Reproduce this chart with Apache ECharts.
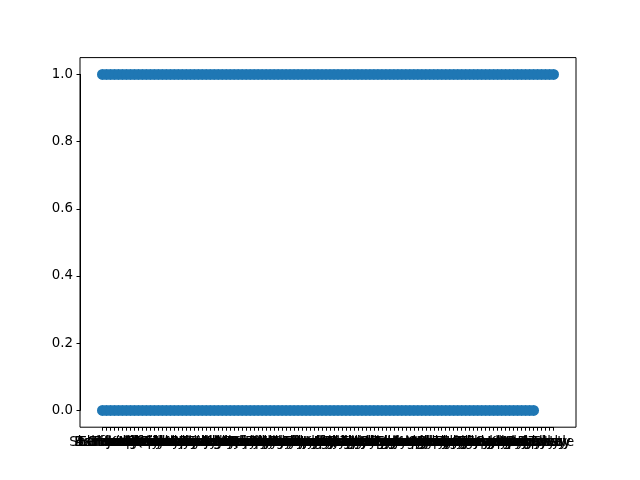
<!DOCTYPE html>
<html>
<head>
<meta charset="utf-8">
<script src="https://cdn.jsdelivr.net/npm/echarts@6/dist/echarts.min.js"></script>
<style>html,body{margin:0;padding:0;background:#fff}#c{width:640px;height:480px}</style>
</head>
<body>
<div id="c"></div>
<script>
var categories = ["Sherwood","Ashfordly","Bartonville","Cliftonia","Dunmoreway","Elmwoodside","Fairviewly","Glendalewyn","Hamiltonia","Irvinedale","Jasperwick","Kingstowne","Lakesidely","Milfordway","Newportsby","Oakdalemyr","Prestonvale","Quincyport","Rivertonia","Salemwyck","Trentonville","Unionport","Vernondale","Westonbury","Yorkshyre","Ashlandvey","Bristolgate","Cantonwyck","Doverbury","Eastonmoor","Franklinby","Georgetowny","Hudsonvale","Ithacapyr","Jacksonby","Kentonwyck","Lincolnby","Madisonvy","Norwoodgy","Oxfordway","Portlandry","Quarryvale","Richmondly","Sheldonway","Taylorsby","Uptonwyck","Victoriavy","Warrenpyk","Yatesburgh","Auburnway","Bedfordgy","Chestervy","Dentonpyke","Edenbury","Fultonway","Granbyvale","Hartfordgy","Ivyburgh","Jerichovey","Kendallpyr","Lowellgate","Marionvy","Nelsonway","Orangeby","Pikevalley","Quailridge","Romeburgh","Suttonpyke","Troyvalley","Uticagrove","Valewyck","Wellsburgy","Avonmouth","Berlinway","Camdenpyr","Daytongy","Elginvale","Fremontby","Greeneway","Harpervy","Ioniaport","Jewellpyk","Knoxburgy","Loganway","Monroevy","Nilesburg","Ogdenpyke","Perryway","Renovalley","Selmagrove","Tiptonvy","Unityway","Vidaburgh","Waynepyke","Adamsway","Boonevy","Clayburgh","Dixonway","Essexpyke","Floydway","Grantvy","Haleburgh","Iraway","Jaypyke","Kaneway","Leevy","Masonby","Nashway","Oakpyke","Pageway","Rushvy","Scottby","Tylevy","Castle"];

var seriesOnes = [1,1,1,1,1,1,1,1,1,1, 1,1,1,1,1,1,1,1,1,1, 1,1,1,1,1,1,1,1,1,1, 1,1,1,1,1,1,1,1,1,1, 1,1,1,1,1,1,1,1,1,1, 1,1,1,1,1,1,1,1,1,1, 1,1,1,1,1,1,1,1,1,1, 1,1,1,1,1,1,1,1,1,1, 1,1,1,1,1,1,1,1,1,1, 1,1,1,1,1,1,1,1,1,1, 1,1,1,1,1,1,1,1,1,1, 1,1,1,1];

var seriesZeros = [0,0,0,0,0,0,0,0,0,0, 0,0,0,0,0,0,0,0,0,0, 0,0,0,0,0,0,0,0,0,0, 0,0,0,0,0,0,0,0,0,0, 0,0,0,0,0,0,0,0,0,0, 0,0,0,0,0,0,0,0,0,0, 0,0,0,0,0,0,0,0,0,0, 0,0,0,0,0,0,0,0,0,0, 0,0,0,0,0,0,0,0,0,0, 0,0,0,0,0,0,0,0,0,0, 0,0,0,0,0,0,0,0,0,'-', '-','-','-','-'];

var yTicks = ["0.0","0.2","0.4","0.6","0.8","1.0"];

var font = "DejaVu Sans";
var chart = echarts.init(document.getElementById('c'), null, {renderer: 'canvas'});
chart.setOption({
  animation: false,
  backgroundColor: '#fff',
  grid: [
    {left: 80, right: 64, top: 57.6, bottom: 52.8, show: true, borderColor: '#000', borderWidth: 1, backgroundColor: 'transparent', containLabel: false},
    {left: 102.5, right: 86.5, top: 74.4, bottom: 69.6, containLabel: false}
  ],
  xAxis: [
    {gridIndex: 0, type: 'value', show: false, min: 0, max: 1},
    {gridIndex: 1, type: 'category', data: categories, boundaryGap: false, offset: 16.8, position: 'bottom',
     axisLine: {show: true, onZero: false, lineStyle: {color: '#000', width: 1}},
     axisTick: {show: true, interval: 0, length: 3.5, lineStyle: {color: '#000', width: 1}},
     axisLabel: {interval: 0, margin: 9, color: '#000', fontFamily: font, fontSize: 13.33, hideOverlap: false},
     splitLine: {show: false}}
  ],
  yAxis: [
    {gridIndex: 0, type: 'value', show: false, min: 0, max: 1},
    {gridIndex: 1, type: 'value', min: 0, max: 1, interval: 0.2, offset: 22.5, position: 'left',
     axisLine: {show: true, onZero: false, lineStyle: {color: '#000', width: 1}},
     axisTick: {show: true, length: 3.5, lineStyle: {color: '#000', width: 1}},
     axisLabel: {margin: 7, color: '#000', fontFamily: font, fontSize: 13.33,
       formatter: function (v) { return yTicks[Math.round(v / 0.2)]; }},
     splitLine: {show: false}}
  ],
  series: [
    {type: 'scatter', xAxisIndex: 1, yAxisIndex: 1, data: seriesOnes, symbolSize: 11,
     itemStyle: {color: '#1f77b4', opacity: 1}, silent: true},
    {type: 'scatter', xAxisIndex: 1, yAxisIndex: 1, data: seriesZeros, symbolSize: 11,
     itemStyle: {color: '#1f77b4', opacity: 1}, silent: true}
  ]
});
</script>
</body>
</html>
